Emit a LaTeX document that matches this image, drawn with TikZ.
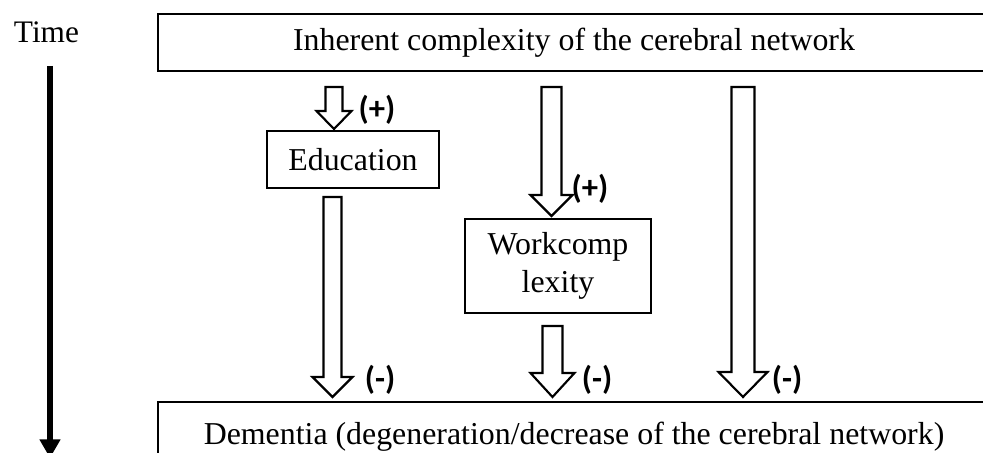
\documentclass[tikz,border=0pt]{standalone}
\usepackage{fontspec}
\usetikzlibrary{arrows.meta}
\setmainfont{Liberation Serif}
\newfontfamily\lblfont{Carlito}
\newcommand\blockarr[6]{% x centre, top y, head base y, tip y, shaft half width, head half width
  \draw[blkarrow] (#1-#5,#2) -- (#1+#5,#2) -- (#1+#5,#3) -- (#1+#6,#3) -- (#1,#4) -- (#1-#6,#3) -- (#1-#5,#3) -- cycle;}
\begin{document}
\begin{tikzpicture}[x=0.75pt,y=-0.75pt,
  box/.style={draw, line width=1.2pt, inner sep=0pt, align=center,
    font=\fontsize{23.9}{28}\selectfont},
  blkarrow/.style={draw, line width=1.6pt, fill=white, line join=miter},
  sign/.style={font=\lblfont\bfseries\fontsize{24.5}{26}\selectfont, inner sep=0pt},
  timeline/.style={line width=4.9pt, -{Triangle[width=15pt,length=14pt]}}]
\useasboundingbox (0,0) rectangle (983,453);
\clip (0,0) rectangle (983,453);

% Boxes
\node[box, minimum width=624pt, minimum height=42.75pt] (inh) at (574,42.5)
  {Inherent complexity of the cerebral network};
\node[box, minimum width=624pt, minimum height=52.5pt] (dem) at (574,437)
  {Dementia (degeneration/decrease of the cerebral network)};
\node[box, minimum width=129pt, minimum height=42.75pt] (edu) at (353,159.5) {Education};
\node[box, minimum width=139.5pt, minimum height=70.5pt] (work) at (558,266)
  {Workcomp\\lexity};

% Time axis
\node[font=\fontsize{23.5}{26}\selectfont, inner sep=0pt, anchor=base] (time) at (46.5,43) {Time};
\coordinate (tstart) at (50,66);
\coordinate (tend) at (50,458);
\draw[timeline] (tstart) -- (tend);

% Block arrows
\blockarr{334}{87}{111}{129}{8.5}{17.5}
\blockarr{332.5}{197}{377}{397}{9}{20}
\blockarr{551.5}{87}{195}{216}{10}{21}
\blockarr{552.5}{326}{373}{397}{10}{22}
\blockarr{743}{87}{372}{397}{11.5}{24.5}

% Signs
\node[sign] (p1) at (377,110) {(+)};
\node[sign] (p2) at (590,189) {(+)};
\node[sign] (m1) at (380,380) {(-)};
\node[sign] (m2) at (597,380) {(-)};
\node[sign] (m3) at (787,380) {(-)};
\end{tikzpicture}
\end{document}
